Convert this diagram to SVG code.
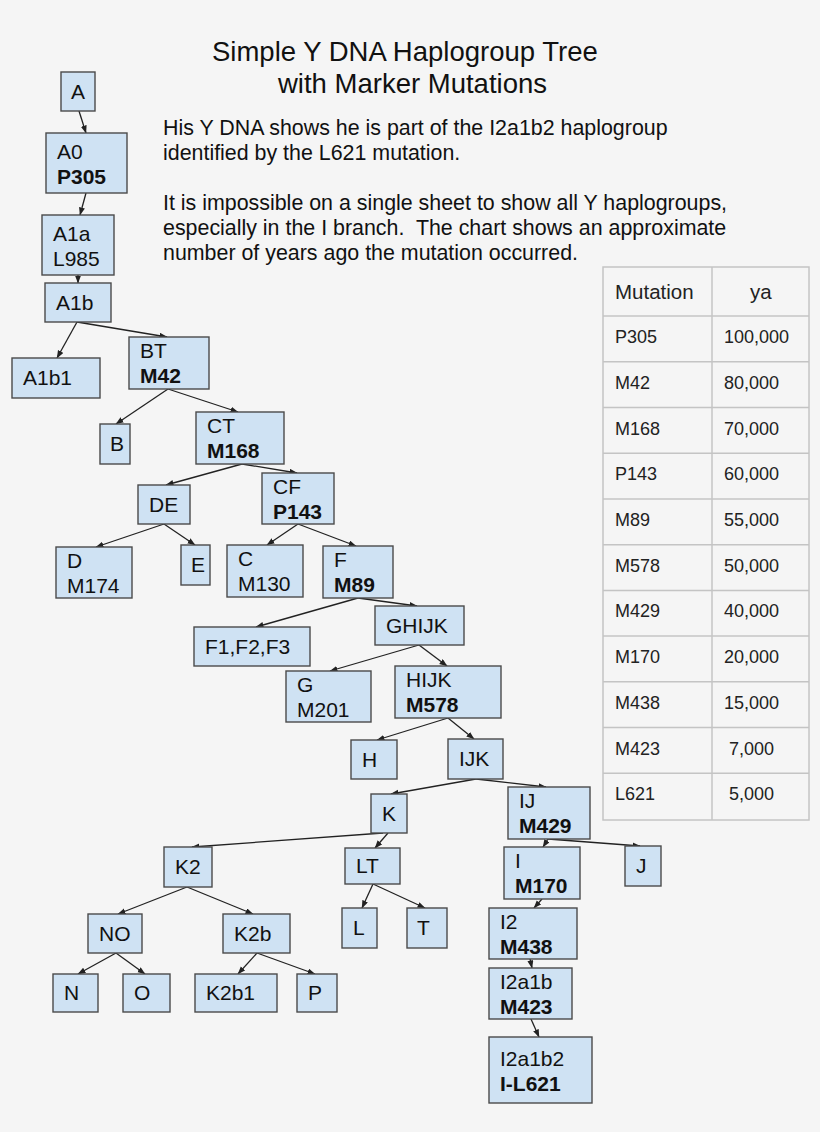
<svg xmlns="http://www.w3.org/2000/svg" width="820" height="1132" viewBox="0 0 820 1132">
<style>
.bg{fill:#f5f5f5}
.n rect{fill:#cfe2f3;stroke:#4a4a4a;stroke-width:1.4}
.n text{font-family:"Liberation Sans",Arial,sans-serif;font-size:21px;fill:#111}
.b{font-weight:bold}
.e line{stroke:#222;stroke-width:1.3;marker-end:url(#ah)}
.t{font-family:"Liberation Sans",Arial,sans-serif;fill:#111}
.tb line,.tb rect{stroke:#c4c4c4;stroke-width:1.5;fill:none}
.tt{font-family:"Liberation Sans",Arial,sans-serif;font-size:18px;fill:#222}
.th{font-family:"Liberation Sans",Arial,sans-serif;font-size:20.5px;fill:#222}
</style>
<defs>
<marker id="ah" markerUnits="userSpaceOnUse" markerWidth="8" markerHeight="7" refX="7.5" refY="3" orient="auto">
<path d="M0,0 L8,3 L0,6 z" fill="#222"/>
</marker>
</defs>
<rect class="bg" x="0" y="0" width="820" height="1132"/>

<g id="title" class="t" font-size="27.5">
<text x="212" y="61">Simple Y DNA Haplogroup Tree</text>
<text x="278" y="93">with Marker Mutations</text>
</g>
<g id="note" class="t" font-size="21.4">
<text x="163" y="135">His Y DNA shows he is part of the I2a1b2 haplogroup</text>
<text x="163" y="160">identified by the L621 mutation.</text>
<text x="163" y="210">It is impossible on a single sheet to show all Y haplogroups,</text>
<text x="163" y="235">especially in the I branch.&#160; The chart shows an approximate</text>
<text x="163" y="260">number of years ago the mutation occurred.</text>
</g>

<g id="connectors" class="e">
<line x1="79" y1="111" x2="86" y2="133"/>
<line x1="86" y1="193" x2="80" y2="215"/>
<line x1="78" y1="275" x2="78" y2="283"/>
<line x1="77" y1="322" x2="57" y2="358"/>
<line x1="77" y1="322" x2="167" y2="337"/>
<line x1="168" y1="389" x2="116" y2="424"/>
<line x1="168" y1="389" x2="238" y2="412"/>
<line x1="242" y1="464" x2="166" y2="485"/>
<line x1="242" y1="464" x2="297" y2="473"/>
<line x1="164" y1="524" x2="96" y2="547"/>
<line x1="164" y1="524" x2="195" y2="545"/>
<line x1="298" y1="524" x2="267" y2="545"/>
<line x1="298" y1="524" x2="356" y2="546"/>
<line x1="358" y1="598" x2="256" y2="627"/>
<line x1="358" y1="598" x2="417" y2="606"/>
<line x1="419" y1="645" x2="330" y2="671"/>
<line x1="419" y1="645" x2="447" y2="666"/>
<line x1="448" y1="718" x2="377" y2="740"/>
<line x1="448" y1="718" x2="474" y2="739"/>
<line x1="476" y1="779" x2="391" y2="794"/>
<line x1="476" y1="779" x2="546" y2="787"/>
<line x1="383" y1="833" x2="192" y2="847"/>
<line x1="388" y1="833" x2="375" y2="848"/>
<line x1="548" y1="839" x2="543" y2="847"/>
<line x1="548" y1="839" x2="640" y2="846"/>
<line x1="373" y1="884" x2="362" y2="908"/>
<line x1="373" y1="884" x2="425" y2="908"/>
<line x1="542" y1="899" x2="534" y2="908"/>
<line x1="530" y1="959" x2="532" y2="968"/>
<line x1="531" y1="1019" x2="539" y2="1037"/>
<line x1="187" y1="887" x2="118" y2="914"/>
<line x1="187" y1="887" x2="253" y2="914"/>
<line x1="116" y1="953" x2="78" y2="974"/>
<line x1="116" y1="953" x2="145" y2="974"/>
<line x1="257" y1="953" x2="238" y2="974"/>
<line x1="257" y1="953" x2="315" y2="974"/>
</g>

<g id="n-A" class="n"><rect x="61" y="72" width="34" height="39"/><text x="71" y="99">A</text></g>
<g id="n-A0" class="n"><rect x="46" y="133" width="81" height="60"/><text x="57" y="159">A0</text><text class="b" x="57" y="184">P305</text></g>
<g id="n-A1a" class="n"><rect x="42" y="215" width="72" height="60"/><text x="53" y="241">A1a</text><text x="53" y="266">L985</text></g>
<g id="n-A1b" class="n"><rect x="45" y="283" width="66" height="39"/><text x="56" y="310">A1b</text></g>
<g id="n-A1b1" class="n"><rect x="12" y="358" width="88" height="40"/><text x="23" y="385">A1b1</text></g>
<g id="n-BT" class="n"><rect x="129" y="337" width="80" height="52"/><text x="140" y="358">BT</text><text class="b" x="140" y="383">M42</text></g>
<g id="n-B" class="n"><rect x="100" y="424" width="30" height="40"/><text x="110" y="451">B</text></g>
<g id="n-CT" class="n"><rect x="196" y="412" width="88" height="52"/><text x="207" y="433">CT</text><text class="b" x="207" y="458">M168</text></g>
<g id="n-DE" class="n"><rect x="138" y="485" width="52" height="39"/><text x="149" y="512">DE</text></g>
<g id="n-CF" class="n"><rect x="262" y="473" width="72" height="51"/><text x="273" y="494">CF</text><text class="b" x="273" y="519">P143</text></g>
<g id="n-D" class="n"><rect x="56" y="547" width="76" height="51"/><text x="67" y="568">D</text><text x="67" y="593">M174</text></g>
<g id="n-E" class="n"><rect x="181" y="545" width="29" height="40"/><text x="191" y="572">E</text></g>
<g id="n-C" class="n"><rect x="227" y="545" width="76" height="52"/><text x="238" y="566">C</text><text x="238" y="591">M130</text></g>
<g id="n-F" class="n"><rect x="323" y="546" width="70" height="52"/><text x="334" y="567">F</text><text class="b" x="334" y="592">M89</text></g>
<g id="n-F123" class="n"><rect x="194" y="627" width="116" height="39"/><text x="205" y="654">F1,F2,F3</text></g>
<g id="n-GHIJK" class="n"><rect x="375" y="606" width="89" height="39"/><text x="386" y="633">GHIJK</text></g>
<g id="n-G" class="n"><rect x="286" y="671" width="85" height="51"/><text x="297" y="692">G</text><text x="297" y="717">M201</text></g>
<g id="n-HIJK" class="n"><rect x="395" y="666" width="106" height="52"/><text x="406" y="687">HIJK</text><text class="b" x="406" y="712">M578</text></g>
<g id="n-H" class="n"><rect x="351" y="740" width="46" height="39"/><text x="362" y="767">H</text></g>
<g id="n-IJK" class="n"><rect x="448" y="739" width="55" height="40"/><text x="459" y="766">IJK</text></g>
<g id="n-K" class="n"><rect x="371" y="794" width="36" height="39"/><text x="382" y="821">K</text></g>
<g id="n-IJ" class="n"><rect x="508" y="787" width="82" height="52"/><text x="519" y="808">IJ</text><text class="b" x="519" y="833">M429</text></g>
<g id="n-K2" class="n"><rect x="164" y="847" width="48" height="40"/><text x="175" y="874">K2</text></g>
<g id="n-LT" class="n"><rect x="345" y="848" width="55" height="36"/><text x="356" y="873">LT</text></g>
<g id="n-I" class="n"><rect x="504" y="847" width="76" height="52"/><text x="515" y="868">I</text><text class="b" x="515" y="893">M170</text></g>
<g id="n-J" class="n"><rect x="625" y="846" width="36" height="40"/><text x="636" y="873">J</text></g>
<g id="n-L" class="n"><rect x="342" y="908" width="35" height="40"/><text x="353" y="935">L</text></g>
<g id="n-T" class="n"><rect x="407" y="908" width="40" height="40"/><text x="417" y="935">T</text></g>
<g id="n-I2" class="n"><rect x="489" y="908" width="88" height="51"/><text x="500" y="929">I2</text><text class="b" x="500" y="954">M438</text></g>
<g id="n-NO" class="n"><rect x="88" y="914" width="54" height="39"/><text x="99" y="941">NO</text></g>
<g id="n-K2b" class="n"><rect x="223" y="914" width="67" height="39"/><text x="234" y="941">K2b</text></g>
<g id="n-N" class="n"><rect x="53" y="974" width="45" height="38"/><text x="64" y="1000">N</text></g>
<g id="n-O" class="n"><rect x="123" y="974" width="47" height="38"/><text x="134" y="1000">O</text></g>
<g id="n-K2b1" class="n"><rect x="195" y="974" width="82" height="38"/><text x="206" y="1000">K2b1</text></g>
<g id="n-P" class="n"><rect x="297" y="974" width="40" height="38"/><text x="308" y="1000">P</text></g>
<g id="n-I2a1b" class="n"><rect x="489" y="968" width="83" height="51"/><text x="500" y="989">I2a1b</text><text class="b" x="500" y="1014">M423</text></g>
<g id="n-I2a1b2" class="n"><rect x="489" y="1037" width="103" height="66"/><text x="500" y="1066">I2a1b2</text><text class="b" x="500" y="1091">I-L621</text></g>

<g id="table">
<g class="tb">
<rect x="603" y="267" width="206" height="553"/>
<line x1="712" y1="267" x2="712" y2="820"/>
<line x1="603" y1="316" x2="809" y2="316"/>
<line x1="603" y1="361.7" x2="809" y2="361.7"/>
<line x1="603" y1="407.5" x2="809" y2="407.5"/>
<line x1="603" y1="453.2" x2="809" y2="453.2"/>
<line x1="603" y1="498.9" x2="809" y2="498.9"/>
<line x1="603" y1="544.7" x2="809" y2="544.7"/>
<line x1="603" y1="590.4" x2="809" y2="590.4"/>
<line x1="603" y1="636.1" x2="809" y2="636.1"/>
<line x1="603" y1="681.8" x2="809" y2="681.8"/>
<line x1="603" y1="727.6" x2="809" y2="727.6"/>
<line x1="603" y1="773.3" x2="809" y2="773.3"/>
</g>
<text class="th" x="615" y="299">Mutation</text>
<text class="th" x="750" y="299">ya</text>
<text class="tt" x="615" y="343">P305</text><text class="tt" x="724" y="343">100,000</text>
<text class="tt" x="615" y="388.7">M42</text><text class="tt" x="724" y="388.7">80,000</text>
<text class="tt" x="615" y="434.5">M168</text><text class="tt" x="724" y="434.5">70,000</text>
<text class="tt" x="615" y="480.2">P143</text><text class="tt" x="724" y="480.2">60,000</text>
<text class="tt" x="615" y="525.9">M89</text><text class="tt" x="724" y="525.9">55,000</text>
<text class="tt" x="615" y="571.7">M578</text><text class="tt" x="724" y="571.7">50,000</text>
<text class="tt" x="615" y="617.4">M429</text><text class="tt" x="724" y="617.4">40,000</text>
<text class="tt" x="615" y="663.1">M170</text><text class="tt" x="724" y="663.1">20,000</text>
<text class="tt" x="615" y="708.8">M438</text><text class="tt" x="724" y="708.8">15,000</text>
<text class="tt" x="615" y="754.6">M423</text><text class="tt" x="729" y="754.6">7,000</text>
<text class="tt" x="615" y="800.3">L621</text><text class="tt" x="729" y="800.3">5,000</text>
</g>
</svg>
